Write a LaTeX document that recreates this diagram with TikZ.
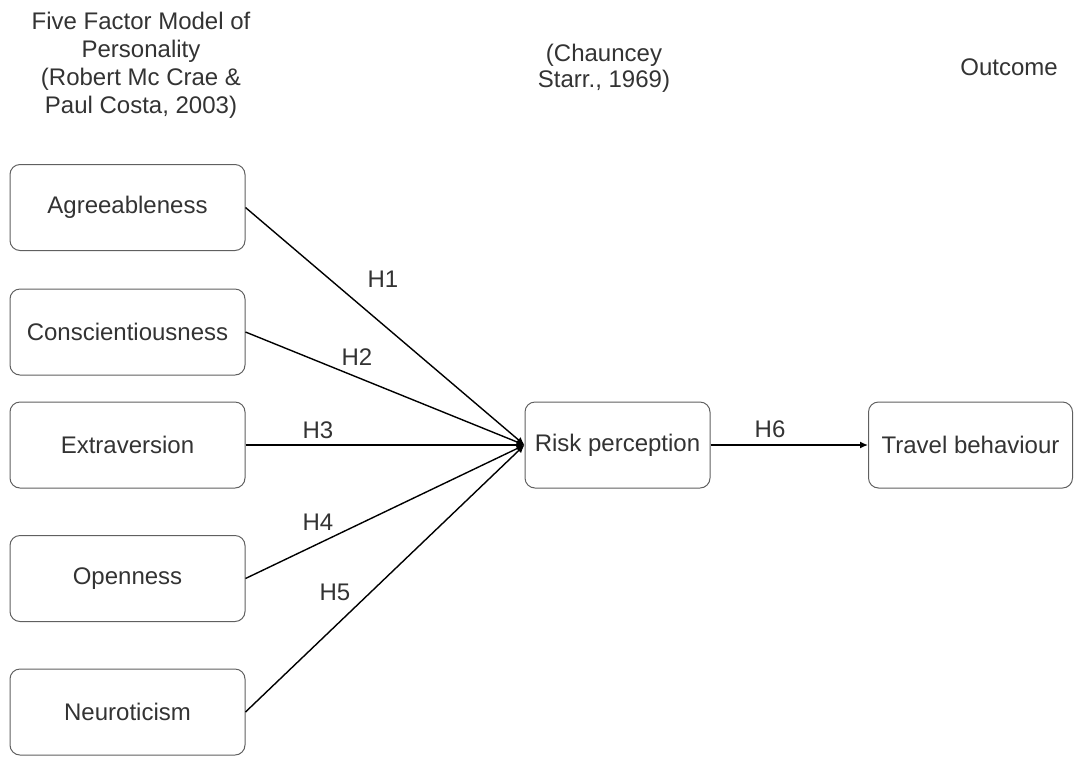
\documentclass[tikz,border=0pt]{standalone}
\usepackage{fontspec}
\setmainfont{Liberation Sans}
\usetikzlibrary{arrows.meta}
\definecolor{txtgray}{HTML}{333333}
\definecolor{boxgray}{HTML}{606060}
\tikzstyle{fblock} = [draw=boxgray,line width=0.5pt,rounded corners=5pt,
    minimum width=117.5pt,minimum height=43pt,text=txtgray,font=\fontsize{12}{14}\selectfont
]
\tikzstyle{hlink} = [line width=0.7pt,-{Latex[length=4pt,width=3.5pt]}]
\tikzstyle{hlabel} = [text=txtgray,inner sep=0pt,font=\fontsize{12}{14}\selectfont]
\tikzstyle{header} = [text=txtgray,align=center,inner sep=0pt,font=\fontsize{12}{14}\selectfont]
\newcommand{\hyplink}[3]{
	\draw[hlink] (#1.east) -- (#2.west);
	\node(h#3) at (#3) [hlabel] {H#3};
}

\begin{document}
\begin{tikzpicture}[x=0.5pt,y=-0.5pt]
	\useasboundingbox (0,0) rectangle (1075,756);
	
	% column headings
	\node(fivefactor) at (141,65) [header] {Five Factor Model of\\Personality\\(Robert Mc Crae \&\\Paul Costa, 2003)};
	\node(starr) at (604,68) [header, font=\fontsize{12}{13}\selectfont] {(Chauncey\\Starr., 1969)};
	\node(outcome) at (1009,67) [header] {Outcome};
	
	% personality factors
	\node(agree) at (127.5,207.5) [fblock] {Agreeableness};
	\node(consc) at (127.5,332) [fblock] {Conscientiousness};
	\node(extra) at (127.5,445) [fblock] {Extraversion};
	\node(open) at (127.5,578.5) [fblock] {Openness};
	\node(neuro) at (127.5,712) [fblock] {Neuroticism};
	
	\node(risk) at (617.5,445) [fblock, minimum width=92.5pt] {Risk perception};
	\node(travel) at (970.5,445) [fblock, minimum width=102pt] {Travel behaviour};
	
	% hypotheses
	\coordinate (1) at (383,279);
	\coordinate (2) at (357,357);
	\coordinate (3) at (318,430);
	\coordinate (4) at (318,522);
	\coordinate (5) at (335,592);
	\coordinate (6) at (770,429);
	
	\hyplink{agree}{risk}{1};
	\hyplink{consc}{risk}{2};
	\hyplink{extra}{risk}{3};
	\hyplink{open}{risk}{4};
	\hyplink{neuro}{risk}{5};
	\hyplink{risk}{travel}{6};
\end{tikzpicture}
\end{document}
